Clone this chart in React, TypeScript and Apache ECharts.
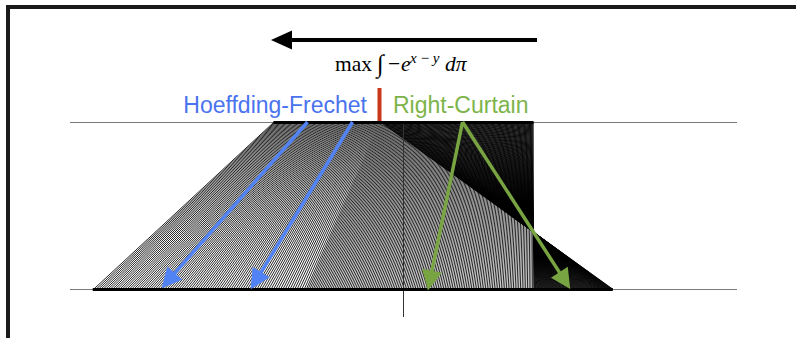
import React, { useEffect, useRef } from "react";
import * as echarts from "echarts";

// ---- data (in model units: top measure on [-1, 1], bottom measure on [-2.39, 1.61]) ----
const xExtent = [-2.565, 2.565];
const topSupport = [-1, 1];
const bottomSupport = [-2.39, 1.61];
const splitPoint = -0.181; // boundary Hoeffding-Frechet | Right-Curtain
const curtainPivot = 1; // right curtain splits mass around this point
const nTopPoints = 220;
const centerLine = [1, -0.168];
const blueArrowStarts = [-0.738, -0.392];
const greenArrowStarts = [0.454];

const topLevel = 1;
const bottomLevel = 0;
const arrowEndLevel = 0.05;

function buildCoupling() {
  const [a0, a1] = topSupport;
  const [b0, b1] = bottomSupport;
  const r = (b1 - b0) / (a1 - a0);
  const m = b0 + r * (splitPoint - a0);
  const dRate = (curtainPivot - m) / (a1 - splitPoint);
  const uRate = (b1 - curtainPivot) / (a1 - splitPoint);
  const left = (s: number) => b0 + r * (s - a0);
  const down = (s: number) => curtainPivot - dRate * (a1 - s);
  const up = (s: number) => curtainPivot + uRate * (a1 - s);
  return { left, down, up };
}

// point on the segment (s, top) -> (t, bottom) at a given level
const along = (s: number, t: number, level: number) => [t + (s - t) * level, level];

export default function App() {
  const ref = useRef<HTMLDivElement>(null);
  useEffect(() => {
    if (!ref.current) return;
    const chart = echarts.init(ref.current, undefined, { renderer: "svg" });
    const { left, down, up } = buildCoupling();
    const coupling: any[] = [];
    for (let i = 0; i < nTopPoints; i++) {
      const s = topSupport[0] + ((i + 0.5) * (topSupport[1] - topSupport[0])) / nTopPoints;
      if (s < splitPoint) {
        coupling.push({ coords: [[s, topLevel], [left(s), bottomLevel]] });
      } else {
        coupling.push({ coords: [[s, topLevel], [down(s), bottomLevel]] });
        coupling.push({ coords: [[s, topLevel], [up(s), bottomLevel]] });
      }
    }
    const blueArrows = blueArrowStarts.map((s) => ({ coords: [[s, topLevel], along(s, left(s), arrowEndLevel)] }));
    const greenArrows: any[] = [];
    greenArrowStarts.forEach((s) => {
      greenArrows.push({ coords: [[s, topLevel], along(s, down(s), arrowEndLevel)] });
      greenArrows.push({ coords: [[s, topLevel], along(s, up(s), arrowEndLevel)] });
    });

    const serif = "'Liberation Serif', 'DejaVu Serif', serif";
    const sans = "'Liberation Sans', Arial, sans-serif";

    chart.setOption({
      animation: false,
      backgroundColor: "#fff",
      grid: { left: 70, right: 59, top: 122, bottom: 49 },
      xAxis: { type: "value", min: xExtent[0], max: xExtent[1], show: false },
      yAxis: { type: "value", min: 0, max: 1, show: false },
      series: [
        {
          type: "lines",
          coordinateSystem: "cartesian2d",
          clip: false,
          silent: true,
          lineStyle: { color: "#7a7a7a", width: 1.2, opacity: 1 },
          data: [
            { coords: [[xExtent[0], topLevel], [xExtent[1], topLevel]] },
            { coords: [[xExtent[0], bottomLevel], [xExtent[1], bottomLevel]] },
          ],
        },
        {
          type: "lines",
          coordinateSystem: "cartesian2d",
          clip: false,
          silent: true,
          lineStyle: { color: "#000", width: 0.85, opacity: 1 },
          data: coupling,
        },
        {
          type: "lines",
          coordinateSystem: "cartesian2d",
          clip: false,
          silent: true,
          lineStyle: { color: "#333", width: 1, opacity: 1 },
          data: [{ coords: [[0, centerLine[0]], [0, centerLine[1]]] }],
        },
        {
          type: "lines",
          coordinateSystem: "cartesian2d",
          clip: false,
          silent: true,
          lineStyle: { color: "#000", width: 3, opacity: 1 },
          data: [
            { coords: [[topSupport[0], topLevel], [topSupport[1], topLevel]] },
            { coords: [[bottomSupport[0], bottomLevel], [bottomSupport[1], bottomLevel]] },
          ],
        },
        {
          type: "lines",
          coordinateSystem: "cartesian2d",
          clip: false,
          silent: true,
          symbol: ["none", "triangle"],
          symbolSize: 20,
          lineStyle: { color: "#5283f5", width: 3.5, opacity: 1 },
          data: blueArrows,
        },
        {
          type: "lines",
          coordinateSystem: "cartesian2d",
          clip: false,
          silent: true,
          symbol: ["none", "triangle"],
          symbolSize: 20,
          lineStyle: { color: "#78a441", width: 3.5, opacity: 1 },
          data: greenArrows,
        },
      ],
      graphic: [
        // frame
        { type: "line", shape: { x1: 6, y1: 7, x2: 800, y2: 7 }, style: { stroke: "#1a1a1a", lineWidth: 4 } },
        { type: "line", shape: { x1: 8, y1: 5, x2: 8, y2: 340 }, style: { stroke: "#1a1a1a", lineWidth: 4 } },
        // arrow
        { type: "line", shape: { x1: 288, y1: 40, x2: 537, y2: 40 }, style: { stroke: "#000", lineWidth: 4 } },
        { type: "polygon", shape: { points: [[271, 40], [292, 30.5], [292, 49.5]] }, style: { fill: "#000" } },
        // formula
        { type: "text", style: { text: "max", x: 335, y: 64.3, font: `21.5px ${serif}`, fill: "#000", verticalAlign: "middle" } },
        { type: "text", style: { text: "∫", x: 377, y: 63, font: `italic 25px ${serif}`, fill: "#000", verticalAlign: "middle" } },
        { type: "text", style: { text: "−", x: 388, y: 64.3, font: `21.5px ${serif}`, fill: "#000", verticalAlign: "middle" } },
        { type: "text", style: { text: "e", x: 401, y: 64.3, font: `italic 21.5px ${serif}`, fill: "#000", verticalAlign: "middle" } },
        { type: "text", style: { text: "x\u2009−\u2009y", x: 410, y: 58, font: `italic 15px ${serif}`, fill: "#000", verticalAlign: "middle" } },
        { type: "text", style: { text: "dπ", x: 445, y: 64.3, font: `italic 21.5px ${serif}`, fill: "#000", verticalAlign: "middle" } },
        // labels
        { type: "text", style: { text: "Hoeffding-Frechet", x: 367, y: 105, font: `23px ${sans}`, fill: "#4a73ee", align: "right", verticalAlign: "middle" } },
        { type: "text", style: { text: "Right-Curtain", x: 393, y: 105, font: `23px ${sans}`, fill: "#7db44a", align: "left", verticalAlign: "middle" } },
        { type: "rect", shape: { x: 377.5, y: 88, width: 4, height: 34 }, style: { fill: "#c9381a" } },
      ],
    });
    return () => chart.dispose();
  }, []);
  return (
    <div
      ref={ref}
      style={{ position: "fixed", left: 0, top: 0, width: 796, height: 338 }}
    />
  );
}
